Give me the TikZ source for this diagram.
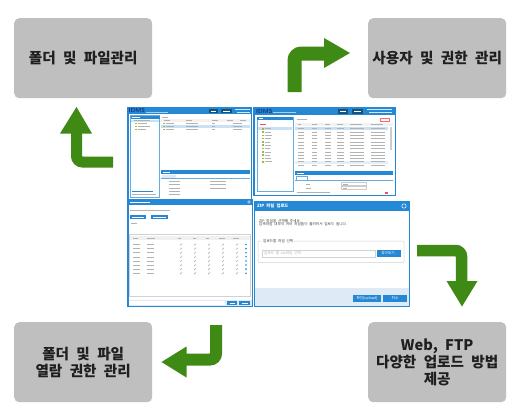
\documentclass[tikz,border=0pt]{standalone}
\usepackage{fontspec}
\newfontfamily\kr{Noto Sans CJK KR}
\newfontfamily\krwide{Noto Sans CJK KR}[WordSpace=2.2]
\definecolor{boxgray}{RGB}{191,191,191}
\definecolor{agreen}{RGB}{62,138,20}
\definecolor{sblue}{RGB}{36,136,212}
\definecolor{sdark}{RGB}{18,52,130}
\definecolor{slight}{RGB}{222,234,245}
\definecolor{selrow}{RGB}{200,225,245}
\definecolor{folderc}{RGB}{150,190,60}
\begin{document}
\begin{tikzpicture}[x=1pt,y=-1pt,
  featurebox/.style={fill=boxgray, rounded corners=5pt, minimum width=138pt, minimum height=80pt,
    inner sep=0pt, align=center, text=black!88, font=\krwide\bfseries\fontsize{14.6}{17}\selectfont},
  shaft/.style={draw=agreen, line width=#1, rounded corners=7pt},
  shaft/.default=12pt,
  tl/.style={draw=gray!60, line width=0.8pt},
  tls/.style={draw=gray!60, line width=0.6pt},
  wl/.style={draw=white, line width=0.6pt},
  tick/.style={draw=gray!70, line width=0.4pt},
  tiny/.style={inner sep=0pt, font=\kr\fontsize{3.6}{4}\selectfont, text=black!75}
]
\useasboundingbox[fill=white] (0,0) rectangle (520,416);

% ---------------- feature boxes ----------------
\node[featurebox, anchor=north west] (folder) at (14,18) {폴더 및 파일관리};
\node[featurebox, anchor=north west] (users) at (368,18) {사용자 및 권한 관리};
\node[featurebox, anchor=north west] (perm) at (14,322) {폴더 및 파일\\열람 권한 관리};
\node[featurebox, anchor=north west] (upload) at (368,322) {Web, FTP\\다양한 업로드 방법\\제공};

% ---------------- green bent arrows ----------------
\coordinate (a1s) at (113,162);
\coordinate (a1e) at (76.5,133);
\draw[shaft=11pt, rounded corners=6pt] (a1s) -| (a1e);
\fill[agreen] (60,133.5) -- (92,133.5) -- (76.5,107) -- cycle;

\coordinate (a2s) at (294.5,92);
\coordinate (a2e) at (325,53.5);
\draw[shaft=14pt] (a2s) |- (a2e);
\fill[agreen] (324,38) -- (324,68) -- (350,53) -- cycle;

\coordinate (a3s) at (417,250.5);
\coordinate (a3e) at (461.5,282);
\draw[shaft=11.5pt, rounded corners=6pt] (a3s) -| (a3e);
\fill[agreen] (446.5,281) -- (477.5,281) -- (462,306.5) -- cycle;

\coordinate (a4s) at (216,325);
\coordinate (a4e) at (185,359.5);
\draw[shaft=12pt, rounded corners=6pt] (a4s) |- (a4e);
\fill[agreen] (186.5,346.5) -- (186.5,377.5) -- (161.5,362) -- cycle;

% ---------------- screenshot A : file manager ----------------
\fill[sblue] (127,107) rectangle (252,200);
\fill[white] (128.5,114) rectangle (250.5,199);
\node[anchor=west, inner sep=0pt, font=\sffamily\bfseries\fontsize{6}{6}\selectfont, text=sdark] (idmsA) at (128.5,110.5) {IDMS};
\draw[white!60!sblue, line width=0.6pt] (146,112) -- (168,112);
\fill[sblue!60!black] (209,108.5) rectangle (218,113);
\fill[sblue!60!black] (221,108.5) rectangle (232,113);
\draw[wl, line width=0.5pt] (211,110.8)--(216,110.8) (223,110.8)--(230,110.8);
\draw[white!80!sblue, line width=0.6pt] (235,109.5)--(250,109.5) (237,112)--(250,112);
% left pane
\draw[sblue!70, line width=0.5pt] (130.5,115.5) rectangle (159.5,197.5);
\fill[sblue] (130.5,115.5) rectangle (159.5,118.5);
\draw[wl, line width=0.5pt] (132,117)--(140,117);
\fill[selrow] (131,119.6) rectangle (159,121.6);
\draw[tls] (134,120.6)--(150,120.6);
\foreach \yy/\w in {123.5/9, 126.5/12, 129.5/8}{
  \fill[folderc] (135,\yy-0.8) rectangle (136.8,\yy+0.8);
  \draw[tls] (138,\yy) -- ++(\w,0);}
\draw[sblue, line width=0.6pt] (131.5,191.5)--(153,191.5);
\draw[tls] (131.5,194)--(156,194);
% right pane
\draw[tls] (162,117.5)--(168,117.5);
\fill[gray!10] (161,119) rectangle (250,122);
\foreach \xx in {164,186,212,227,240}{\draw[tls, line width=0.5pt] (\xx,120.5)--++(6,0);}
\fill[selrow] (161,125.2) rectangle (250,127.8);
\foreach \yy in {123.5,126.5,129.5}{
  \fill[folderc] (163,\yy-0.8) rectangle (164.8,\yy+0.8);
  \draw[tls] (166,\yy)--++(8,0);
  \draw[tls] (186,\yy)--++(12,0);
  \draw[tls] (212,\yy)--++(3,0);
  \draw[tls] (233,\yy)--++(9,0);}
% bottom properties panel
\fill[sblue] (161,170) rectangle (250,174);
\draw[wl, line width=0.5pt] (163,172)--(170,172);
\fill[slight] (162,175) rectangle (176,178.5);
\draw[sblue!70, line width=0.4pt] (161,178.5)--(250,178.5);
\foreach \yy in {181,184.5,188,191.5,194.5}{\draw[tls] (169,\yy)--++(11,0);}
\foreach \yy in {181,184.5,188}{\draw[tls] (210,\yy)--++(16,0);}

% ---------------- screenshot B : user manager ----------------
\fill[sblue] (253,107) rectangle (396,196);
\fill[white] (254.5,115) rectangle (394.5,194.5);
\node[anchor=west, inner sep=0pt, font=\sffamily\bfseries\fontsize{6}{6}\selectfont, text=sdark] (idmsB) at (256,111) {IDMS};
\draw[white!60!sblue, line width=0.6pt] (273,112.5) -- (296,112.5);
\fill[sblue!60!black] (338,109) rectangle (348,113.5);
\fill[sblue!60!black] (352,109) rectangle (363,113.5);
\draw[wl, line width=0.5pt] (340,111.3)--(346,111.3) (354,111.3)--(361,111.3);
\draw[white!80!sblue, line width=0.6pt] (367,109.5)--(392,109.5) (369,112.3)--(392,112.3);
% left pane
\draw[sblue!70, line width=0.5pt] (257,117) rectangle (293,191);
\fill[sblue] (257,117) rectangle (293,120);
\draw[wl, line width=0.5pt] (259,118.5)--(263,118.5);
\draw[red!70, line width=0.8pt] (260,124)--(266,124);
\fill[selrow] (258,127.2) rectangle (292,130.2);
\foreach \yy/\w in {128.7/6, 132/6, 135.3/7, 138.6/6, 141.9/5, 145.2/6, 148.5/5, 151.8/6, 155.1/5, 158.4/6, 161.7/7}{
  \fill[folderc] (262,\yy-0.8) rectangle (263.8,\yy+0.8);
  \draw[tls] (265,\yy) -- ++(\w,0);}
% right pane list
\draw[tls] (297,119.5)--(307,119.5);
\draw[red!60, line width=0.5pt] (380,118) rectangle (389,121);
\fill[gray!10] (295,122.5) rectangle (393,125.5);
\foreach \xx/\w in {298/3,312/5,325/5,337/6,350/12,371/12}{\draw[tls, line width=0.5pt] (\xx,124)--++(\w,0);}
\fill[selrow] (295,127.3) rectangle (388,130.1);
\fill[selrow!50] (295,161.3) rectangle (388,164.1);
\foreach \yy in {128.7,132,135.3,138.6,141.9,145.2,148.5,151.8,155.1,158.4,161.7,165}{
  \draw[tls] (298,\yy)--++(6,0);
  \draw[tls] (312,\yy)--++(5,0);
  \draw[tls] (325,\yy)--++(6,0);
  \draw[tls] (337,\yy)--++(7,0);
  \draw[tls] (350,\yy)--++(14,0);
  \draw[tls] (371,\yy)--++(14,0);}
\fill[gray!40] (389.5,127) rectangle (391.5,150);
% bottom panel
\fill[sblue] (295,171) rectangle (393,175);
\draw[wl, line width=0.5pt] (297,173)--(304,173);
\draw[sblue!70, line width=0.4pt] (296.5,176.5) rectangle (307,180);
\draw[sblue!70, line width=0.4pt] (295,180)--(393,180);
\draw[tls] (306,184)--(310,184) (306,188)--(311,188);
\draw[gray!40, line width=0.4pt] (341,182.6) rectangle (366,185.4) (341,186.6) rectangle (366,189.4);
\draw[tls] (343,184)--(348,184) (343,188)--(347,188);
\draw[tls] (297,192.5)--(330,192.5);
\fill[red!70] (385,191.5) rectangle (388,193.5);

% ---------------- screenshot C : permission dialog ----------------
\fill[sblue] (127,199) rectangle (253,307);
\fill[white] (128.5,205) rectangle (251.5,300);
\fill[slight] (128.5,300) rectangle (251.5,305.5);
\draw[wl] (130,202)--(150,202);
\draw[white, line width=0.4pt] (249,202) circle (1.3);
\draw[tls] (130,210)--(170,210);
\fill[sblue] (130,215) rectangle (146,218.5);
\fill[sblue] (151,215) rectangle (168,218.5);
\draw[wl, line width=0.4pt] (132,216.8)--(144,216.8) (153,216.8)--(166,216.8);
\draw[tls] (131,223.5)--(137,223.5);
\draw[gray!35, line width=0.4pt] (129.5,234) rectangle (250.5,296);
\fill[gray!12] (129.8,236) rectangle (250.2,240);
\foreach \xx/\w in {133/5,147/8,178/3,193/3,206/3,219/6,233/6}{\draw[tls, line width=0.5pt] (\xx,238)--++(\w,0);}
\foreach \i in {0,...,7}{
  \pgfmathsetmacro{\yy}{244.5+\i*4.1}
  \draw[tls] (133,\yy)--++(7,0);
  \draw[tls] (147,\yy)--++(7,0);
  \foreach \xx in {181,195,209,223,237}{
    \draw[tick] (\xx-1,\yy) -- (\xx-0.3,\yy+0.8) -- (\xx+1,\yy-1);}
  \fill[sblue] (246,\yy) circle (0.9);}
\fill[white] (129,301) rectangle (225,305);
\fill[sblue] (227,301) rectangle (237,305);
\fill[sblue] (239,301) rectangle (250,305);
\draw[wl, line width=0.4pt] (229.5,303)--(234.5,303) (241.5,303)--(247.5,303);

% ---------------- screenshot D : ZIP upload dialog ----------------
\fill[sblue] (253.5,201) rectangle (410,307);
\fill[white] (255,211) rectangle (408.5,288);
\fill[slight] (255,288) rectangle (408.5,305.5);
\node[anchor=west, inner sep=0pt, font=\kr\bfseries\fontsize{4.3}{5}\selectfont, text=white] (ziptitle) at (257,206) {ZIP 파일 업로드};
\draw[white, line width=0.5pt] (404,206) circle (2.2);
\node[tiny, anchor=west] (msg1) at (259,220.7) {ZIP 파일을 선택해 주세요.};
\node[tiny, anchor=west] (msg2) at (259,224.6) {압축파일 내부의 여러 파일들이 풀려져서 업로드 됩니다.};
\draw[gray!35, line width=0.5pt, rounded corners=1pt] (258,241) rectangle (404,262.5);
\node[tiny, anchor=west, fill=white, inner xsep=1pt] (legend) at (262,241) {업로드할 파일 선택};
\draw[gray!35, line width=0.4pt] (262,250) rectangle (375,256.7);
\node[tiny, anchor=west, text=gray!60] (ph) at (264,253.4) {업로드 할 zip파일 선택..};
\fill[sblue] (377,250) rectangle (401,256.7);
\node[tiny, text=white] (browse) at (389,253.4) {찾아보기..};
\fill[sblue] (353,295) rectangle (381,302);
\node[tiny, text=white] (okbtn) at (367,298.5) {확인(upload)};
\fill[sblue] (383,295) rectangle (407,302);
\node[tiny, text=white] (cancel) at (395,298.5) {취소};
\end{tikzpicture}
\end{document}
